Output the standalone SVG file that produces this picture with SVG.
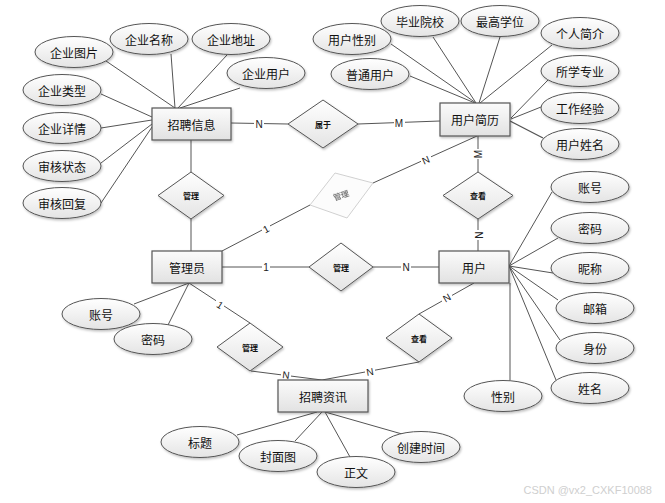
<svg xmlns="http://www.w3.org/2000/svg" width="665" height="503" viewBox="0 0 665 503">
<defs>
<linearGradient id="ge" x1="0" y1="0" x2="0" y2="1"><stop offset="0" stop-color="#ffffff"/><stop offset="1" stop-color="#e4e4e4"/></linearGradient>
<linearGradient id="gr" x1="0" y1="0" x2="0" y2="1"><stop offset="0" stop-color="#fbfbfb"/><stop offset="1" stop-color="#e2e2e2"/></linearGradient>
<filter id="sh" x="-20%" y="-20%" width="140%" height="150%"><feDropShadow dx="1" dy="1.5" stdDeviation="1" flood-color="#000" flood-opacity="0.25"/></filter>
<style>
.e{fill:url(#ge);stroke:#555;stroke-width:1;filter:url(#sh)}
.r{fill:url(#gr);stroke:#555;stroke-width:1.2;filter:url(#sh)}
.d{fill:url(#ge);stroke:#555;stroke-width:1;filter:url(#sh)}
.t{font-family:"Noto Sans CJK SC","Noto Sans",sans-serif;font-size:12px;fill:#111;text-anchor:middle;dominant-baseline:central}
.s{font-family:"Noto Sans CJK SC","Noto Sans",sans-serif;font-size:8px;font-weight:bold;fill:#111;text-anchor:middle;dominant-baseline:central}
.l{font-family:"Liberation Sans",Arial,sans-serif;font-size:10px;fill:#222;text-anchor:middle;dominant-baseline:central}
#conn line,#conn polyline{stroke:#555;stroke-width:1;fill:none}
</style>
</defs>
<rect width="665" height="503" fill="#fff"/>
<g id="conn">
<line x1="106" y1="61" x2="175" y2="108"/>
<line x1="171" y1="54" x2="175" y2="108"/>
<line x1="227" y1="55" x2="178" y2="108"/>
<line x1="240" y1="88" x2="180" y2="108"/>
<line x1="101" y1="94" x2="152" y2="117"/>
<line x1="101" y1="128" x2="152" y2="120"/>
<line x1="101" y1="163" x2="152" y2="124"/>
<line x1="101" y1="203" x2="152" y2="127"/>
<line x1="231" y1="123" x2="288" y2="124"/>
<line x1="358" y1="124" x2="440" y2="121"/>
<line x1="391" y1="44" x2="476" y2="103"/>
<line x1="433" y1="37" x2="476" y2="103"/>
<line x1="500" y1="37" x2="479" y2="103"/>
<line x1="552" y1="45" x2="480" y2="103"/>
<line x1="410" y1="76" x2="475" y2="103"/>
<line x1="548" y1="80" x2="511" y2="118"/>
<line x1="541" y1="107" x2="511" y2="119"/>
<line x1="543" y1="138" x2="510" y2="121" style="stroke-width:1.4"/>
<line x1="191" y1="140" x2="191" y2="172"/>
<line x1="191" y1="219" x2="191" y2="251"/>
<line x1="222" y1="251" x2="310" y2="205"/>
<line x1="373" y1="183" x2="477" y2="136"/>
<line x1="478" y1="136" x2="478" y2="172"/>
<line x1="478" y1="219" x2="478" y2="251"/>
<line x1="222" y1="267" x2="309" y2="267"/>
<line x1="373" y1="267" x2="439" y2="267"/>
<line x1="509" y1="266" x2="552" y2="192"/>
<line x1="509" y1="266" x2="558" y2="238"/>
<line x1="509" y1="266" x2="553" y2="273"/>
<line x1="509" y1="266" x2="558" y2="300"/>
<line x1="509" y1="266" x2="560" y2="340"/>
<line x1="509" y1="266" x2="556" y2="380"/>
<line x1="510" y1="283" x2="510" y2="381"/>
<line x1="474" y1="283" x2="419" y2="314"/>
<line x1="419" y1="362" x2="322" y2="380"/>
<line x1="189" y1="283" x2="250" y2="323"/>
<line x1="251" y1="371" x2="322" y2="380"/>
<line x1="189" y1="283" x2="134" y2="304"/>
<line x1="189" y1="283" x2="168" y2="325"/>
<line x1="317" y1="412" x2="237" y2="435"/>
<line x1="322" y1="412" x2="295" y2="441"/>
<line x1="325" y1="412" x2="350" y2="457"/>
<line x1="325" y1="412" x2="402" y2="434"/>
</g>
<g id="labels">
<rect x="254" y="118" width="10" height="11" fill="#fff"/><text class="l" x="259" y="124">N</text>
<rect x="394" y="117" width="11" height="11" fill="#fff"/><text class="l" x="399" y="123">M</text>
<rect x="262" y="224" width="8" height="10" fill="#fff"/><text class="l" x="266" y="229" transform="rotate(-28 266 229)">1</text>
<rect x="421" y="155" width="10" height="10" fill="#fff"/><text class="l" x="426" y="160" transform="rotate(-24 426 160)">N</text>
<rect x="473" y="149" width="10" height="10" fill="#fff"/><text class="l" x="478" y="154" transform="rotate(-90 478 154)">M</text>
<rect x="473" y="230" width="10" height="10" fill="#fff"/><text class="l" x="478" y="235" transform="rotate(90 478 235)">N</text>
<rect x="262" y="262" width="8" height="10" fill="#fff"/><text class="l" x="266" y="267">1</text>
<rect x="401" y="262" width="10" height="10" fill="#fff"/><text class="l" x="406" y="267">N</text>
<rect x="442" y="293" width="10" height="10" fill="#fff"/><text class="l" x="447" y="298" font-size="8" transform="rotate(-30 447 298)">N</text>
<rect x="365" y="367" width="10" height="10" fill="#fff"/><text class="l" x="370" y="372" font-size="8" transform="rotate(-10 370 372)">N</text>
<rect x="216" y="300" width="8" height="10" fill="#fff"/><text class="l" x="220" y="305" transform="rotate(33 220 305)">1</text>
<rect x="281" y="370" width="10" height="10" fill="#fff"/><text class="l" x="286" y="375" font-size="8" transform="rotate(7 286 375)">N</text>
</g>
<g id="zhaopinxinxi"><rect class="r" x="152" y="108" width="79" height="32"/><text class="t" x="191.5" y="124">招聘信息</text></g>
<g id="qiyetupian"><ellipse class="e" cx="74" cy="52" rx="39" ry="15.5"/><text class="t" x="74" y="52">企业图片</text></g>
<g id="qiyemingcheng"><ellipse class="e" cx="149" cy="39" rx="39" ry="15.5"/><text class="t" x="149" y="39">企业名称</text></g>
<g id="qiyedizhi"><ellipse class="e" cx="231" cy="39" rx="39" ry="15.5"/><text class="t" x="231" y="39">企业地址</text></g>
<g id="qiyeyonghu"><ellipse class="e" cx="266" cy="73" rx="39" ry="15.5"/><text class="t" x="266" y="73">企业用户</text></g>
<g id="qiyeleixing"><ellipse class="e" cx="62" cy="90" rx="39" ry="15.5"/><text class="t" x="62" y="90">企业类型</text></g>
<g id="qiyexiangqing"><ellipse class="e" cx="62" cy="128" rx="39" ry="15.5"/><text class="t" x="62" y="128">企业详情</text></g>
<g id="shenhezhuangtai"><ellipse class="e" cx="62" cy="166" rx="39" ry="15.5"/><text class="t" x="62" y="166">审核状态</text></g>
<g id="shenhehuifu"><ellipse class="e" cx="62" cy="203" rx="39" ry="15.5"/><text class="t" x="62" y="203">审核回复</text></g>
<g id="shuyu"><polygon class="d" points="323,100 358,124 323,148 288,124"/><text class="s" x="323" y="124" font-weight="normal">属于</text></g>
<g id="yonghujianli"><rect class="r" x="440" y="103" width="70" height="33"/><text class="t" x="475" y="119.5">用户简历</text></g>
<g id="yonghuxingbie"><ellipse class="e" cx="352" cy="39" rx="39" ry="15.5"/><text class="t" x="352" y="39">用户性别</text></g>
<g id="biyeyuanxiao"><ellipse class="e" cx="420" cy="21" rx="39" ry="15.5"/><text class="t" x="420" y="21">毕业院校</text></g>
<g id="zuigaoxuewei"><ellipse class="e" cx="500" cy="21" rx="39" ry="15.5"/><text class="t" x="500" y="21">最高学位</text></g>
<g id="gerenjianjie"><ellipse class="e" cx="580" cy="33" rx="39" ry="15.5"/><text class="t" x="580" y="33">个人简介</text></g>
<g id="putongyonghu"><ellipse class="e" cx="370" cy="74" rx="39" ry="15.5"/><text class="t" x="370" y="74">普通用户</text></g>
<g id="suoxuezhuanye"><ellipse class="e" cx="580" cy="71" rx="39" ry="15.5"/><text class="t" x="580" y="71">所学专业</text></g>
<g id="gongzuojingyan"><ellipse class="e" cx="580" cy="108" rx="39" ry="15.5"/><text class="t" x="580" y="108">工作经验</text></g>
<g id="yonghuxingming"><ellipse class="e" cx="580" cy="144" rx="39" ry="15.5"/><text class="t" x="580" y="144">用户姓名</text></g>
<g id="guanli1"><polygon class="d" points="191,172 224,195.5 191,219 158,195.5"/><text class="s" x="191" y="195.5">管理</text></g>
<g id="guanli_faded" opacity="0.55"><polygon points="335,173 373,183 347,218 310,205" fill="#fafafa" stroke="#aaa" stroke-width="1"/><text class="s" x="341" y="195" font-weight="normal" fill="#666" transform="rotate(-18 341 195)">管理</text></g>
<g id="chakan1"><polygon class="d" points="478,172 513,195.5 478,219 443,195.5"/><text class="s" x="478" y="195.5">查看</text></g>
<g id="guanliyuan"><rect class="r" x="152" y="251" width="70" height="32"/><text class="t" x="187" y="267">管理员</text></g>
<g id="guanli2"><polygon class="d" points="341,243 373,267 341,291 309,267"/><text class="s" x="341" y="267">管理</text></g>
<g id="yonghu"><rect class="r" x="439" y="251" width="70" height="32"/><text class="t" x="474" y="267">用户</text></g>
<g id="zhanghao2"><ellipse class="e" cx="590" cy="187" rx="39" ry="15.5"/><text class="t" x="590" y="187">账号</text></g>
<g id="mima2"><ellipse class="e" cx="590" cy="228" rx="39" ry="15.5"/><text class="t" x="590" y="228">密码</text></g>
<g id="nicheng"><ellipse class="e" cx="590" cy="268" rx="39" ry="15.5"/><text class="t" x="590" y="268">昵称</text></g>
<g id="youxiang"><ellipse class="e" cx="595" cy="308" rx="39" ry="15.5"/><text class="t" x="595" y="308">邮箱</text></g>
<g id="shenfen"><ellipse class="e" cx="595" cy="348" rx="39" ry="15.5"/><text class="t" x="595" y="348">身份</text></g>
<g id="xingming"><ellipse class="e" cx="590" cy="388" rx="39" ry="15.5"/><text class="t" x="590" y="388">姓名</text></g>
<g id="xingbie"><ellipse class="e" cx="503" cy="396" rx="39" ry="15.5"/><text class="t" x="503" y="396">性别</text></g>
<g id="chakan2"><polygon class="d" points="419,314 452,338 419,362 386,338"/><text class="s" x="419" y="338">查看</text></g>
<g id="guanli3"><polygon class="d" points="250,323 283,347 250,371 217,347"/><text class="s" x="250" y="347">管理</text></g>
<g id="zhanghao1"><ellipse class="e" cx="101" cy="314" rx="39" ry="15.5"/><text class="t" x="101" y="314">账号</text></g>
<g id="mima1"><ellipse class="e" cx="153" cy="339" rx="39" ry="15.5"/><text class="t" x="153" y="339">密码</text></g>
<g id="zhaopinzixun"><rect class="r" x="278" y="380" width="90" height="32"/><text class="t" x="323" y="396">招聘资讯</text></g>
<g id="biaoti"><ellipse class="e" cx="200" cy="442" rx="39" ry="15.5"/><text class="t" x="200" y="442">标题</text></g>
<g id="fengmiantu"><ellipse class="e" cx="278" cy="456" rx="39" ry="15.5"/><text class="t" x="278" y="456">封面图</text></g>
<g id="zhengwen"><ellipse class="e" cx="356" cy="472" rx="39" ry="15.5"/><text class="t" x="356" y="472">正文</text></g>
<g id="chuangjianshijian"><ellipse class="e" cx="421" cy="447" rx="39" ry="15.5"/><text class="t" x="421" y="447">创建时间</text></g>
<text x="652" y="490" font-family="'Liberation Sans',Arial,sans-serif" font-size="11" fill="#cfcfcf" text-anchor="end" dominant-baseline="central">CSDN @vx2_CXKF10088</text>
</svg>
